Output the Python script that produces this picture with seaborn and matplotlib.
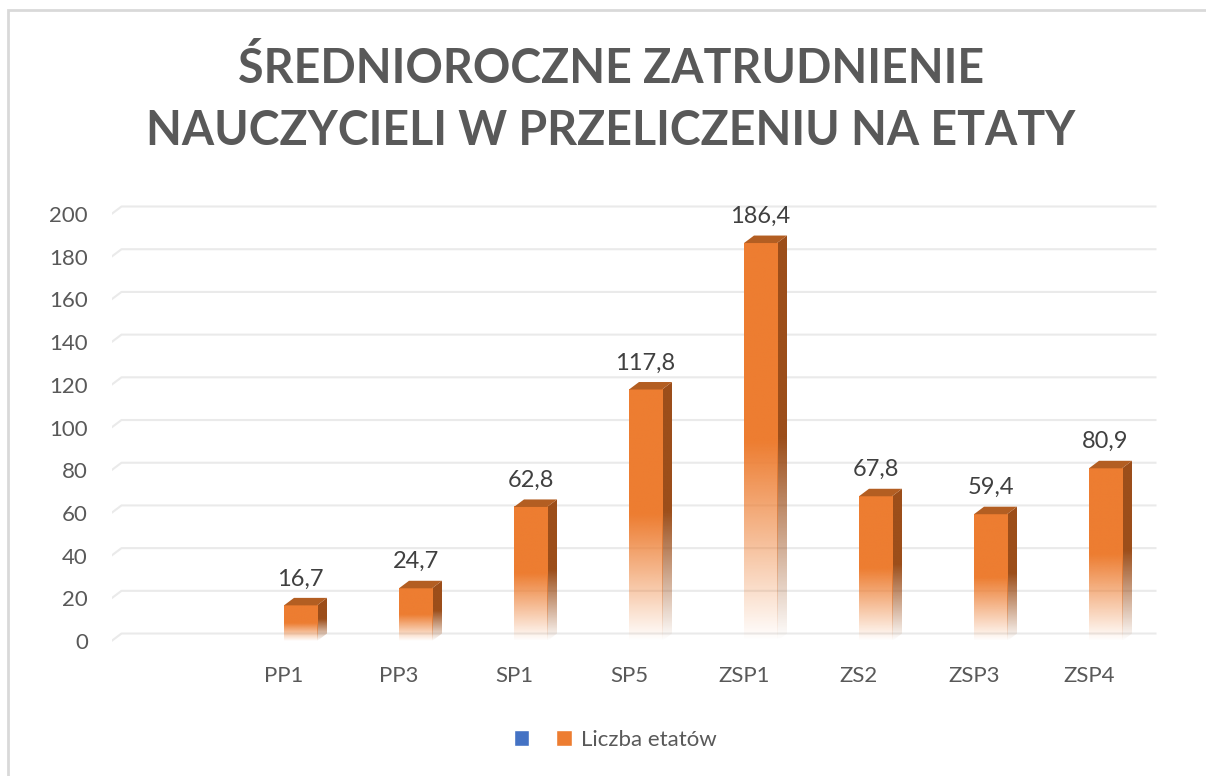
import numpy as np
import pandas as pd
import matplotlib.pyplot as plt
import seaborn as sns
from matplotlib.patches import Polygon, Rectangle
from matplotlib.colors import to_rgb

# dane (pierwsza kategoria i pierwsza seria sa puste)
categories = ["", "PP1", "PP3", "SP1", "SP5", "ZSP1", "ZS2", "ZSP3", "ZSP4"]
series_names = [" ", "Liczba etatów"]
empty_series = [np.nan] * len(categories)
etaty = [np.nan, 16.7, 24.7, 62.8, 117.8, 186.4, 67.8, 59.4, 80.9]
y_ticks = [0, 20, 40, 60, 80, 100, 120, 140, 160, 180, 200]
title_lines = ["ŚREDNIOROCZNE ZATRUDNIENIE", "NAUCZYCIELI W PRZELICZENIU NA ETATY"]

df = pd.DataFrame({
    "kategoria": categories * 2,
    "seria": [series_names[0]] * len(categories) + [series_names[1]] * len(categories),
    "wartosc": empty_series + etaty,
})

BLUE = "#4472C4"
ORANGE = "#ED7D31"
TOP = "#B35E22"
SIDE = "#9C4E1A"
GRID = "#EAEAEA"

sns.set_style("white")
plt.rcParams['font.family'] = ['Lato', 'DejaVu Sans']

fig = plt.figure(figsize=(12.06, 7.76), dpi=100)
ax = fig.add_axes([111.5 / 1206, 1 - 645.3 / 776, 1046.5 / 1206, 444.1 / 776])

sns.barplot(data=df, x="kategoria", y="wartosc", hue="seria", order=categories,
            hue_order=series_names, palette={series_names[0]: BLUE, series_names[1]: ORANGE},
            width=0.574, errorbar=None, legend=False, ax=ax)

ax.set_xlim(-0.5, 8.6)
ax.set_ylim(-2, 206)

# glebokosc efektu 3D (w jednostkach danych)
dx = 10 / 115
dy = 7.5 / 2.135

# linie siatki na tylnej scianie + skos na bocznej
for v in y_ticks:
    ax.plot([-0.5, -0.5 + dx, 8.5 + dx], [v, v + dy, v + dy], color=GRID, lw=1.5, zorder=0.5,
            solid_capstyle='butt')


def fade_image(color, n=200):
    rgb = to_rgb(color)
    t = np.linspace(0, 1, n)
    alpha = np.clip(t / 0.5, 0, 1)
    img = np.zeros((n, 1, 4))
    img[:, 0, :3] = rgb
    img[:, 0, 3] = alpha
    return img


for p in list(ax.patches):
    h = p.get_height()
    if not np.isfinite(h) or h <= 0:
        continue
    x0, w = p.get_x(), p.get_width()
    p.set_visible(False)

    # przod slupka z zanikaniem do bieli
    ax.imshow(fade_image(ORANGE), extent=[x0, x0 + w, 0, h], origin='lower', aspect='auto',
              interpolation='bilinear', zorder=3)

    # bok
    side = Polygon([(x0 + w, 0), (x0 + w + dx, dy), (x0 + w + dx, h + dy), (x0 + w, h)],
                   closed=True, facecolor='none', edgecolor='none')
    ax.add_patch(side)
    im = ax.imshow(fade_image(SIDE), extent=[x0 + w, x0 + w + dx, 0, h + dy], origin='lower',
                   aspect='auto', interpolation='bilinear', zorder=2.5)
    im.set_clip_path(side)

    # gora
    ax.add_patch(Polygon([(x0, h), (x0 + dx, h + dy), (x0 + w + dx, h + dy), (x0 + w, h)],
                         closed=True, facecolor=TOP, edgecolor='none', zorder=3.5))

    ax.annotate(f"{h:.1f}".replace(".", ","), (x0 + w / 2, h), xytext=(0, 14.4),
                textcoords='offset points', ha='center', va='baseline',
                fontsize=17, color='#404040')

ax.set_xlim(-0.5, 8.6)
ax.set_ylim(-2, 206)
ax.set_yticks(y_ticks)
ax.set_yticklabels([str(v) for v in y_ticks])
ax.set_xlabel("")
ax.set_ylabel("")
ax.tick_params(axis='y', length=0, pad=17, labelsize=16, labelcolor='#595959')
ax.tick_params(axis='x', length=0, pad=15, labelsize=16, labelcolor='#595959')
sns.despine(ax=ax, left=True, bottom=True)

# tytul
fig.text(0.5066, 1 - 83 / 776, title_lines[0], ha='center', va='baseline',
         fontsize=33.5, fontweight='bold', color='#595959')
fig.text(0.5066, 1 - 145 / 776, title_lines[1], ha='center', va='baseline',
         fontsize=33.5, fontweight='bold', color='#595959')

# legenda
handles = [Rectangle((0, 0), 1, 1, facecolor=BLUE), Rectangle((0, 0), 1, 1, facecolor=ORANGE)]
fig.legend(handles, ["", series_names[1]], loc='center', bbox_to_anchor=(0.51, 1 - 740 / 776),
           ncol=2, frameon=False, fontsize=16, labelcolor='#595959', handlelength=0.7,
           handleheight=0.7, handletextpad=0.4, columnspacing=0.8)

# ramka wykresu
fig.patches.append(Rectangle((8 / 1206, -0.1), 1.2, 1.1 - 10 / 776, transform=fig.transFigure,
                             fill=False, edgecolor='#D9D9D9', lw=2))

plt.savefig("out.png", dpi=100)
